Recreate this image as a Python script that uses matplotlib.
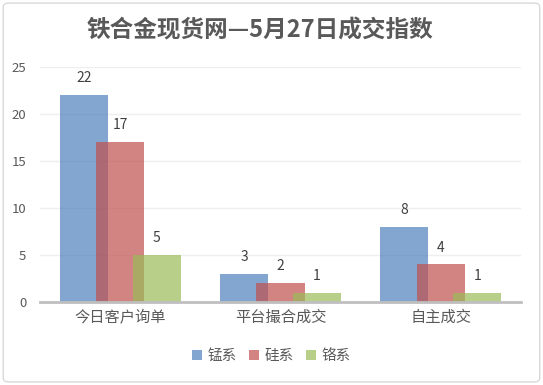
import matplotlib.pyplot as plt
import numpy as np
from matplotlib.patches import FancyBboxPatch, Patch

plt.rcParams['font.family'] = ['Noto Sans CJK SC', 'DejaVu Sans']

categories = ["今日客户询单", "平台撮合成交", "自主成交"]
series = ["锰系", "硅系", "铬系"]
mn = [22, 3, 8]
si = [17, 2, 4]
cr = [5, 1, 1]
colors = ["#4F81BD", "#C0504D", "#9BBB59"]

fig = plt.figure(figsize=(5.43, 3.85), dpi=100)
ax = fig.add_axes([0.0737, 0.2156, 0.8858, 0.6104])

x = np.arange(len(categories))
width = 0.30
offset = 0.227
for i, (vals, c, name) in enumerate(zip([mn, si, cr], colors, series)):
    pos = x + (i - 1) * offset
    ax.bar(pos, vals, width, color=c, alpha=0.7, label=name, zorder=2)
    for px, v in zip(pos, vals):
        ax.annotate(str(v), (px, v), xytext=(0, 7), textcoords="offset points",
                    ha="center", va="bottom", fontsize=10, color="#404040")

ax.set_xlim(-0.5, 2.5)
ax.set_ylim(0, 25)
ax.set_yticks([0, 5, 10, 15, 20, 25])
ax.set_xticks(x)
ax.set_xticklabels(categories, fontsize=11, color="#595959")
ax.tick_params(axis="y", labelsize=9.5, colors="#595959", length=0, pad=10)
ax.tick_params(axis="x", length=0, pad=5)
ax.grid(axis="y", color="#EFEFEF", linewidth=1, zorder=0)
for s in ["top", "right", "left"]:
    ax.spines[s].set_visible(False)
ax.spines["bottom"].set_color("#BFBFBF")
ax.spines["bottom"].set_linewidth(2)
ax.spines["bottom"].set_zorder(3)

fig.text(0.479, 0.922, "铁合金现货网—5月27日成交指数", ha="center", va="center",
         fontsize=17, fontweight="bold", color="#595959")

handles = [Patch(facecolor=c, alpha=0.7) for c in colors]
fig.legend(handles, series, loc="center", bbox_to_anchor=(0.5, 0.075), ncol=3,
           frameon=False, fontsize=10.5, handlelength=0.7, handleheight=0.7,
           handletextpad=0.4, columnspacing=0.8, labelcolor="#595959")

border = FancyBboxPatch((0.006, 0.008), 0.988, 0.984, boxstyle="round,pad=0,rounding_size=0.01",
                        transform=fig.transFigure, facecolor="none", edgecolor="#D9D9D9", linewidth=1)
fig.patches.append(border)

fig.savefig("out.png", dpi=100)
plt.close()
